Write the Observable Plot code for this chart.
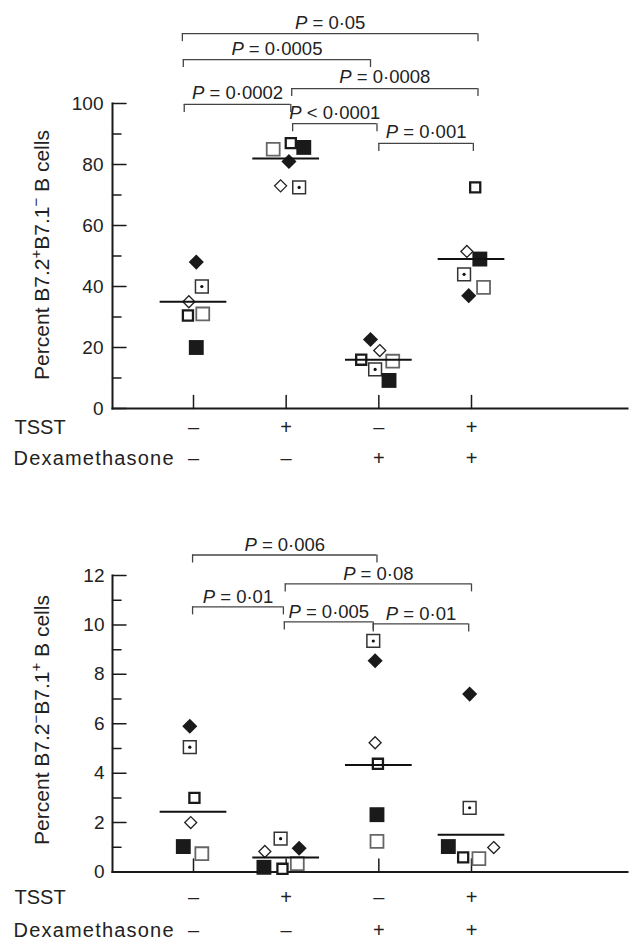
<!DOCTYPE html>
<html><head><meta charset="utf-8">
<script src="https://cdn.jsdelivr.net/npm/d3@7"></script>
<script src="https://cdn.jsdelivr.net/npm/@observablehq/plot@0.6"></script>
<style>
body{margin:0;background:#fff;}
#chart{width:637px;}
#chart svg{display:block;}
</style></head><body><div id="chart"></div>
<script>
// ---------- data ----------
const categories = [1, 2, 3, 4];
const tsstRow = ["–", "+", "–", "+"];
const dexRow = ["–", "–", "+", "+"];
const donorStyles = ["A", "B", "C", "D", "E", "F"]; // A filled diamond, B open diamond, C dotted square, D thick square, E grey square, F filled square

// Top panel: Percent B7.2+B7.1- B cells
const topA = [48, 81, 22.6, 37];
const topB = [35, 73, 19, 51.5];
const topC = [40, 72.5, 12.8, 44];
const topD = [30.5, 87, 16, 72.5];
const topE = [31, 85, 15.5, 39.7];
const topF = [20, 85.6, 9.2, 49];
const topMedians = [35, 82, 16, 49];
const topJitter = {
  A: [0.03, 0.03, -0.09, -0.03],
  B: [-0.05, -0.06, 0.01, -0.05],
  C: [0.09, 0.14, -0.04, -0.08],
  D: [-0.06, 0.05, -0.19, 0.04],
  E: [0.10, -0.14, 0.15, 0.13],
  F: [0.03, 0.19, 0.11, 0.09]
};
const topMajorTicks = [0, 20, 40, 60, 80, 100];
const topMinorTicks = [10, 30, 50, 70, 90];
const topBracketLabels = ["P = 0·05", "P = 0·0005", "P = 0·0008", "P = 0·0002", "P < 0·0001", "P = 0·001"];
const topBracketFrom = [0.88, 0.89, 2.06, 0.90, 2.07, 3.00];
const topBracketTo = [4.07, 2.91, 4.07, 2.05, 2.98, 4.02];
const topBracketLevel = [122.9, 114.4, 104.9, 99.7, 93.4, 86.9];

// Bottom panel: Percent B7.2-B7.1+ B cells
const botA = [5.9, 0.96, 8.55, 7.2];
const botB = [2.0, 0.83, 5.23, 0.99];
const botC = [5.05, 1.35, 9.35, 2.6];
const botD = [3.0, 0.13, 4.38, 0.59];
const botE = [0.74, 0.34, 1.24, 0.54];
const botF = [1.03, 0.19, 2.32, 1.03];
const botMedians = [2.44, 0.59, 4.33, 1.51];
const botJitter = {
  A: [-0.04, 0.14, -0.04, -0.02],
  B: [-0.03, -0.23, -0.04, 0.24],
  C: [-0.04, -0.06, -0.06, -0.02],
  D: [0.01, -0.04, -0.01, -0.09],
  E: [0.09, 0.12, -0.02, 0.08],
  F: [-0.11, -0.24, -0.02, -0.25]
};
const botMajorTicks = [0, 2, 4, 6, 8, 10, 12];
const botMinorTicks = [1, 3, 5, 7, 9, 11];
const botBracketLabels = ["P = 0·006", "P = 0·08", "P = 0·01", "P = 0·005", "P = 0·01"];
const botBracketFrom = [0.99, 1.99, 0.99, 1.98, 2.94];
const botBracketTo = [2.98, 4.00, 1.97, 2.94, 3.97];
const botBracketLevel = [12.83, 11.66, 10.73, 10.12, 10.04];

// ---------- helpers ----------
const FONT = "'Liberation Sans', Arial, Helvetica, sans-serif";
const tickShape = {draw(context, length) { context.moveTo(0, 0); context.lineTo(0, -length); }};

function buildPoints(series, jitter) {
  const pts = [];
  donorStyles.forEach((s, k) => {
    series[k].forEach((v, i) => {
      pts.push({style: s, x: categories[i] + jitter[s][i], y: v});
    });
  });
  return pts;
}

function panel(cfg) {
  const {height, marginTop, marginBottom, yDomain, series, jitter, medians,
         major, minor, bLabels, bFrom, bTo, bLevel, rowDy, tickPad, pDy} = cfg;
  const marginLeft = 112, marginRight = 10;
  const pxPerUnit = (height - marginTop - marginBottom) / (yDomain[1] - yDomain[0]);
  const legUnits = 8 / pxPerUnit;
  const pts = buildPoints(series, jitter);
  const brackets = bLabels.map((l, i) => ({label: l, from: bFrom[i], to: bTo[i], level: bLevel[i]}));
  const legs = brackets.flatMap(b => [{x: b.from, level: b.level}, {x: b.to, level: b.level}]);
  const med = medians.map((m, i) => ({c: categories[i], m}));
  const sel = s => pts.filter(p => p.style === s);
  const ink = "#1a1a1a";
  const plot = Plot.plot({
    width: 637, height, marginTop, marginBottom, marginLeft, marginRight,
    x: {type: "linear", domain: [1, 4], range: [193, 471], axis: null},
    y: {domain: yDomain, axis: null},
    style: {fontFamily: FONT, fontSize: "19px", color: "#222", background: "white"},
    marks: [
      Plot.frame({anchor: "left", stroke: ink, strokeWidth: 2}),
      Plot.frame({anchor: "bottom", stroke: ink, strokeWidth: 2}),
      // inward y ticks
      Plot.vector(major, {y: d => d, frameAnchor: "left", length: 13.5, rotate: 90, anchor: "start", shape: tickShape, stroke: ink, strokeWidth: 1.5}),
      Plot.vector(minor, {y: d => d, frameAnchor: "left", length: 8.5, rotate: 90, anchor: "start", shape: tickShape, stroke: ink, strokeWidth: 1.5}),
      Plot.axisY(major, {tickSize: 0, tickPadding: tickPad, fontSize: 19, fill: "#222", label: null}),
      // upward x ticks
      Plot.vector(categories, {x: d => d, frameAnchor: "bottom", length: 13, rotate: 0, anchor: "start", shape: tickShape, stroke: ink, strokeWidth: 1.5}),
      // condition rows
      Plot.text(categories, {x: d => d, text: (d, i) => tsstRow[i], frameAnchor: "bottom", dy: rowDy[0], fontSize: 20, fill: "#222"}),
      Plot.text(categories, {x: d => d, text: (d, i) => dexRow[i], frameAnchor: "bottom", dy: rowDy[1], fontSize: 20, fill: "#222"}),
      Plot.text(["TSST"], {text: d => d, frameAnchor: "bottom-left", dx: -98, dy: rowDy[0], textAnchor: "start", fontSize: 20, fill: "#222"}),
      Plot.text(["Dexamethasone"], {text: d => d, frameAnchor: "bottom-left", dx: -99, dy: rowDy[1], textAnchor: "start", fontSize: 20, fill: "#222"}),
      // brackets
      Plot.ruleY(brackets, {y: "level", x1: "from", x2: "to", stroke: "#444", strokeWidth: 1.3}),
      Plot.ruleX(legs, {x: "x", y1: "level", y2: d => d.level - legUnits, stroke: "#444", strokeWidth: 1.3}),
      Plot.text(brackets, {x: d => (d.from + d.to) / 2, y: "level", text: "label", dy: pDy, fontSize: 18.5, fill: "#222"}),
      // points
      Plot.dot(sel("E"), {x: "x", y: "y", symbol: "square", r: 7.3, fill: "white", stroke: "#666", strokeWidth: 1.8}),
      Plot.dot(sel("D"), {x: "x", y: "y", symbol: "square", r: 5.7, fill: "white", stroke: ink, strokeWidth: 2.3}),
      Plot.dot(sel("C"), {x: "x", y: "y", symbol: "square", r: 7.2, fill: "white", stroke: "#333", strokeWidth: 1.5}),
      Plot.dot(sel("C"), {x: "x", y: "y", r: 1.6, fill: "#111", stroke: "none"}),
      Plot.dot(sel("F"), {x: "x", y: "y", symbol: "square", r: 8.4, fill: ink, stroke: "none"}),
      Plot.dot(sel("B"), {x: "x", y: "y", symbol: "diamond2", r: 5.4, fill: "white", stroke: "#222", strokeWidth: 1.3}),
      Plot.dot(sel("A"), {x: "x", y: "y", symbol: "diamond2", r: 6.8, fill: ink, stroke: "none"}),
      // medians
      Plot.ruleY(med, {y: "m", x1: d => d.c - 0.36, x2: d => d.c + 0.36, stroke: "#111", strokeWidth: 2})
    ]
  });
  d3.select(plot).selectAll("text").each(function() {
    const t = this.textContent;
    if (/^P [=<]/.test(t)) {
      const s = d3.select(this);
      s.text(null);
      s.append("tspan").attr("font-style", "italic").text("P");
      s.append("tspan").text(t.slice(1));
    } else if (t === "Dexamethasone") {
      d3.select(this).attr("letter-spacing", "1.2px");
    }
  });
  // y title with superscripts
  const title = d3.select(plot).append("text")
    .attr("transform", `translate(49,${cfg.titleY}) rotate(-90)`)
    .attr("text-anchor", "middle")
    .attr("font-family", FONT).attr("font-size", 21).attr("fill", "#222");
  cfg.titleParts.forEach(([txt, sup]) => {
    const ts = title.append("tspan").text(txt);
    if (sup === 1) ts.attr("dy", -8).attr("font-size", 15);
    if (sup === -1) ts.attr("dy", 8);
  });
  return plot;
}

const chart = document.getElementById("chart");
chart.appendChild(panel({
  height: 472, marginTop: 103, marginBottom: 64, yDomain: [0, 100],
  series: [topA, topB, topC, topD, topE, topF], jitter: topJitter, medians: topMedians,
  major: topMajorTicks, minor: topMinorTicks,
  bLabels: topBracketLabels, bFrom: topBracketFrom, bTo: topBracketTo, bLevel: topBracketLevel,
  rowDy: [25, 56], tickPad: 9, pDy: -11, titleY: 255,
  titleParts: [["Percent B7.2", 0], ["+", 1], ["B7.1", -1], ["−", 1], [" B cells", -1]]
}));
chart.appendChild(panel({
  height: 473, marginTop: 103, marginBottom: 73.5, yDomain: [0, 12],
  series: [botA, botB, botC, botD, botE, botF], jitter: botJitter, medians: botMedians,
  major: botMajorTicks, minor: botMinorTicks,
  bLabels: botBracketLabels, bFrom: botBracketFrom, bTo: botBracketTo, bLevel: botBracketLevel,
  rowDy: [32, 65], tickPad: 8, pDy: -10, titleY: 248,
  titleParts: [["Percent B7.2", 0], ["−", 1], ["B7.1", -1], ["+", 1], [" B cells", -1]]
}));
</script>
</body></html>
